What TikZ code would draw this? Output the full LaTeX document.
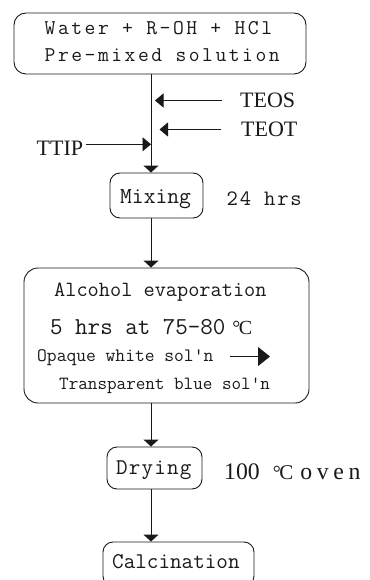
\documentclass[tikz,border=0pt]{standalone}
\usepackage{fontspec}
\setmainfont{Liberation Serif}
\newfontfamily\lmt{Latin Modern Mono}
\usetikzlibrary{arrows.meta}

% degree Celsius sign: small ring followed by a C of the given size
\newcommand\degCel[1]{{\rmfamily\fontsize{20}{20}\selectfont °}\kern-1.5pt{\rmfamily\fontsize{#1}{#1}\selectfont C}}
% typewriter text at a given size and letter spacing
\newcommand\tw[2]{\lmt\fontsize{#1}{#1}\selectfont\addfontfeature{LetterSpace=#2}}

\begin{document}
\begin{tikzpicture}[x=1pt,y=-1pt,
  flowbox/.style={draw=black!90, line width=0.9pt, rounded corners=12pt, inner sep=0pt},
  flow/.style={draw=black!90, line width=0.9pt, -{Triangle[width=15pt,length=7pt]}},
  feed/.style={draw=black!90, line width=0.9pt, -{Triangle[width=14pt,length=8.5pt]}},
  bigtip/.style={draw=black!90, line width=0.9pt, -{Triangle[width=19pt,length=12pt]}},
  txt/.style={anchor=base west, inner sep=0pt, text=black!90},
]
\useasboundingbox (0,0) rectangle (369,580);
\clip (0,0) rectangle (369,580);

% process boxes
\node[flowbox, minimum width=292pt, minimum height=61pt] (premix) at (160,43.5) {};
\node[flowbox, rounded corners=10pt, minimum width=93pt, minimum height=45pt] (mix) at (156.5,195.5) {};
\node[flowbox, rounded corners=14pt, minimum width=285pt, minimum height=135pt] (evap) at (166.5,335.5) {};
\node[flowbox, rounded corners=10pt, minimum width=95pt, minimum height=42pt] (dry) at (154.5,468) {};
\node[flowbox, rounded corners=10pt, minimum width=151pt, minimum height=44pt] (calc) at (178.5,564) {};

% box texts
\node[txt, font=\tw{21}{12}] (l1) at (44.5,34.5) {Water + R-OH + HCl};
\node[txt, font=\tw{21}{12}] (l2) at (44.5,62) {Pre-mixed solution};
\node[txt, font=\tw{22.9}{0}] (lmix) at (120,203) {Mixing};
\node[txt, font=\tw{22}{8}] (lmixt) at (226.5,205) {24 hrs};
\node[txt, font=\tw{21.7}{0}] (lev1) at (54,296.5) {Alcohol evaporation};
\node[txt, font=\tw{24.3}{0}] (lev2) at (50,334.5) {5 hrs at 75-80\hspace{7pt}\degCel{20}};
\node[txt, font=\tw{19}{0}] (lev3) at (37,361) {Opaque white sol'n};
\node[txt, font=\tw{18.6}{0}] (lev4) at (59,389) {Transparent blue sol'n};
\node[txt, font=\tw{22.5}{5}] (ldry) at (116,474) {Drying};
\node[txt, font=\fontsize{23.7}{23.7}\selectfont] (ldryt) at (224,479.5) {100\hspace{13pt}\degCel{21}\hspace{7pt}{\addfontfeature{LetterSpace=20}oven}};
\node[txt, font=\tw{22.5}{0}] (lcalc) at (112,568) {Calcination};

% reagent labels
\node[txt, font=\fontsize{22}{22}\selectfont] (teos) at (240,108) {TEOS};
\node[txt, font=\fontsize{22}{22}\selectfont] (teot) at (241,137) {TEOT};
\node[txt, font=\fontsize{22}{22}\selectfont] (ttip) at (36.5,156) {TTIP};

% main flow line
\coordinate (spine) at (151,0);
\draw[flow] (premix.south -| spine) -- (mix.north -| spine);
\draw[flow] (mix.south -| spine) -- (evap.north -| spine);
\draw[flow] (evap.south -| spine) -- (dry.north -| spine);
\draw[flow] (dry.south -| spine) -- (calc.north -| spine);

% reagent feeds
\coordinate (teosout) at (222,100.5);
\coordinate (teosin) at (155,100.5);
\coordinate (teotout) at (221,129.5);
\coordinate (teotin) at (159.5,129.5);
\coordinate (ttipout) at (86,144.3);
\draw[feed] (teosout) -- (teosin);
\draw[feed] (teotout) -- (teotin);
\draw[feed] (ttipout) -- (ttipout -| spine);

% colour change inside the evaporation box
\coordinate (solfrom) at (230,356.5);
\coordinate (solto) at (270,356.5);
\draw[bigtip] (solfrom) -- (solto);
\end{tikzpicture}
\end{document}
